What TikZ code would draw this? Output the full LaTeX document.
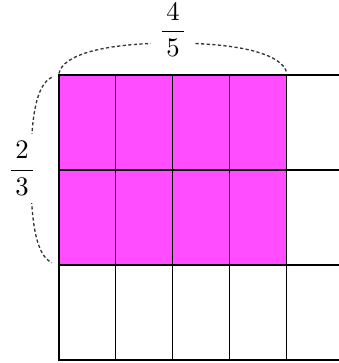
\documentclass[tikz,border=0pt]{standalone}
\usepackage{amsmath}
\usepackage{xcolor}
\usetikzlibrary{positioning,calc}
\definecolor{shade}{HTML}{FF4DFF}
\definecolor{bk90}{HTML}{363636}
\tikzset{
  cellfill/.style={fill=#1, draw=none},
  cellfill/.default=shade,
  gridline/.style={draw=black, thin},
  borderline/.style={draw=black, thick},
  bracepath/.style={draw=#1, line width=0.5pt, dash pattern=on 1.2pt off 0.9pt},
  bracepath/.default=bk90,
  fraclabel/.style={fill=white, inner sep=3pt, font=\normalsize},
}
\begin{document}
\begin{tikzpicture}
\useasboundingbox (-0.776,-0.04) rectangle (3.684,4.737);
\clip (-0.776,-0.04) rectangle (3.684,4.737);

% Corners of the grid (5 columns, 3 rows)
\coordinate (bl) at (0,0);
\coordinate (tl) at (0,3.75);
\coordinate (br) at (3.75,0);
\coordinate (tr) at (3.75,3.75);

% Shaded part: 4 of 5 columns, 2 of 3 rows
\path[cellfill] (0,1.25) rectangle (3,3.75);

% Cell lines
\foreach \i in {1,...,4}
  \draw[gridline] (0.75*\i,0) -- (0.75*\i,3.75);
\foreach \j in {1,2}
  \draw[gridline] (0,1.25*\j) -- (3.75,1.25*\j);

% Outer border, open on the right
\draw[borderline] (tr) -- (tl) -- (bl) -- (br);

% Brace over the shaded columns
\coordinate (colsL) at (0,3.77);
\coordinate (colsR) at (3,3.77);
\coordinate (colsM) at (1.5,4.17);
\draw[bracepath] (colsL) .. controls +(0.05,0.25) and +(-0.9,0) .. (colsM)
  .. controls +(0.9,0) and +(-0.05,0.25) .. (colsR);
\node[fraclabel] (cols) at (1.5,4.34) {$\displaystyle\frac{\,4\,}{\,5\,}$};

% Brace beside the shaded rows
\coordinate (rowsT) at (-0.095,3.72);
\coordinate (rowsB) at (-0.095,1.28);
\coordinate (rowsM) at (-0.37,2.5);
\draw[bracepath] (rowsT) .. controls +(-0.205,-0.1) and +(0,0.7) .. (rowsM)
  .. controls +(0,-0.7) and +(-0.205,0.1) .. (rowsB);
\node[fraclabel] (rows) at (-0.487,2.52) {$\displaystyle\frac{\,2\,}{\,3\,}$};

\end{tikzpicture}
\end{document}
